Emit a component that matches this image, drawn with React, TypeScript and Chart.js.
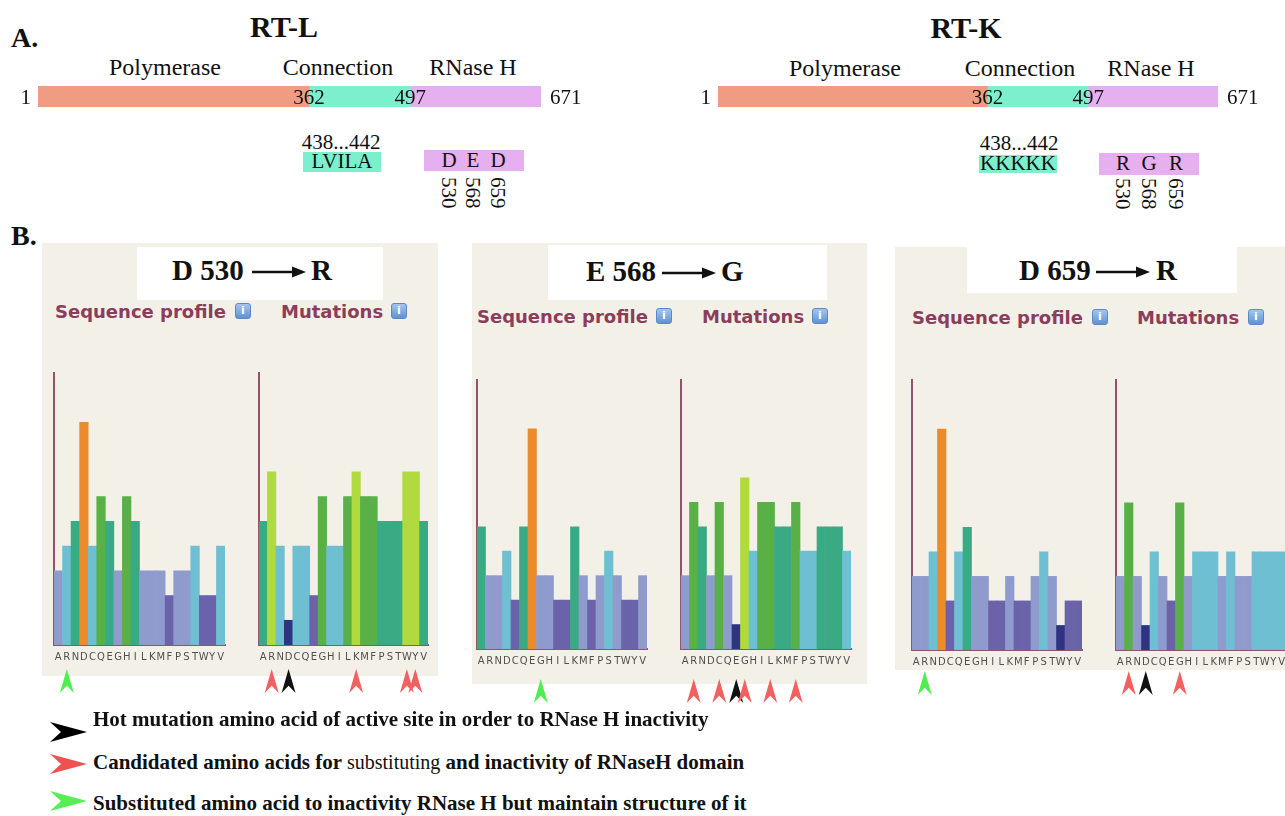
import React, { useEffect, useRef } from 'react';
import { Chart, registerables } from 'chart.js';

Chart.register(...registerables);

// ---------------- DATA ----------------
const aminoAcids = ['A', 'R', 'N', 'D', 'C', 'Q', 'E', 'G', 'H', 'I', 'L', 'K', 'M', 'F', 'P', 'S', 'T', 'W', 'Y', 'V'];

// conservation / mutation levels (1..9)
const d530Profile = [3, 4, 5, 9, 4, 6, 5, 3, 6, 5, 3, 3, 3, 2, 3, 3, 4, 2, 2, 4];
const d530Mutations = [5, 7, 4, 1, 4, 4, 2, 6, 4, 4, 6, 7, 6, 6, 5, 5, 5, 7, 7, 5];
const e568Profile = [5, 3, 3, 4, 2, 5, 9, 3, 3, 2, 2, 5, 3, 2, 3, 4, 3, 2, 2, 3];
const e568Mutations = [3, 6, 5, 3, 6, 3, 1, 7, 4, 6, 6, 5, 5, 6, 4, 4, 5, 5, 5, 4];
const d659Profile = [3, 3, 4, 9, 2, 4, 5, 3, 3, 2, 2, 3, 2, 2, 3, 4, 3, 1, 2, 2];
const d659Mutations = [3, 6, 3, 1, 4, 3, 2, 6, 3, 4, 4, 4, 3, 4, 3, 3, 4, 4, 4, 4];

// arrow marks under the bars
const d530ProfileMarks = [{ aa: 'R', kind: 'green' }];
const d530MutationMarks = [
  { aa: 'R', kind: 'red' }, { aa: 'D', kind: 'black' }, { aa: 'K', kind: 'red' },
  { aa: 'W', kind: 'red' }, { aa: 'Y', kind: 'red' },
];
const e568ProfileMarks = [{ aa: 'G', kind: 'green' }];
const e568MutationMarks = [
  { aa: 'R', kind: 'red' }, { aa: 'C', kind: 'red' }, { aa: 'E', kind: 'black' },
  { aa: 'G', kind: 'red' }, { aa: 'L', kind: 'red' }, { aa: 'F', kind: 'red' },
];
const d659ProfileMarks = [{ aa: 'R', kind: 'green' }];
const d659MutationMarks = [{ aa: 'R', kind: 'red' }, { aa: 'D', kind: 'black' }, { aa: 'G', kind: 'red' }];

// domain map
const domainNames = ['Polymerase', 'Connection', 'RNase H'];
const domainStarts = [1, 362, 497];
const domainEnds = [362, 497, 671];
const domainTicks = [1, 362, 497, 671];
const hingeRange = '438...442';
const hingeRTL = 'LVILA';
const hingeRTK = 'KKKKK';
const activeSitePositions = ['530', '568', '659'];
const activeRTL = ['D', 'E', 'D'];
const activeRTK = ['R', 'G', 'R'];
const mutationTitles = [
  ['D 530', 'R'],
  ['E 568', 'G'],
  ['D 659', 'R'],
];
const legendTexts = [
  'Hot mutation amino acid of active site in order to RNase H inactivity',
  'Candidated amino acids for ',
  'substituting',
  ' and inactivity of RNaseH domain',
  'Substituted amino acid to inactivity RNase H but maintain structure of it',
];

// ---------------- STYLE ----------------
const levelColors: Record<number, string> = {
  1: '#2e3482',
  2: '#6b63aa',
  3: '#8f9bcc',
  4: '#6dbfd1',
  5: '#3aaa84',
  6: '#58b046',
  7: '#b0da3e',
  8: '#e2c53a',
  9: '#ec8b2c',
};
const markColors: Record<string, string> = { red: '#f26060', black: '#111111', green: '#50ee50' };
const domainColors = ['#ef9c82', '#7cf0cc', '#e6aff0'];
const axisColor = '#93536f';
const maroon = '#8b3d5b';
const panelBg = '#f2f0e7';
const SERIF = '"Liberation Serif", "Times New Roman", serif';
const SANS = '"DejaVu Sans", Verdana, sans-serif';

const markerPlugin = {
  id: 'markers',
  afterDraw(chart: any, _args: any, opts: any) {
    const items = (opts && opts.items) || [];
    const xs = chart.scales.x;
    const ctx = chart.ctx;
    items.forEach((m: any) => {
      const idx = aminoAcids.indexOf(m.aa);
      const cx = xs.getPixelForValue(idx);
      const top = opts.top;
      const h = 24;
      const w = 7;
      ctx.save();
      ctx.fillStyle = markColors[m.kind];
      ctx.beginPath();
      ctx.moveTo(cx, top);
      ctx.lineTo(cx + w, top + h);
      ctx.lineTo(cx, top + h * 0.7);
      ctx.lineTo(cx - w, top + h);
      ctx.closePath();
      ctx.fill();
      ctx.restore();
    });
  },
};

const domainLabelPlugin = {
  id: 'domainLabels',
  afterDraw(chart: any) {
    const xs = chart.scales.x;
    const { bottom } = chart.chartArea;
    const ctx = chart.ctx;
    ctx.save();
    ctx.font = '21px ' + SERIF;
    ctx.fillStyle = '#111';
    ctx.textBaseline = 'alphabetic';
    domainTicks.forEach((v, i) => {
      const px = xs.getPixelForValue(v);
      let x = px;
      if (i === 0) {
        ctx.textAlign = 'right';
        x = px - 7;
      } else if (i === domainTicks.length - 1) {
        ctx.textAlign = 'left';
        x = px + 9;
      } else {
        ctx.textAlign = 'center';
      }
      ctx.fillText(String(v), x, bottom - 3);
    });
    ctx.restore();
  },
};

type Plot = { l: number; r: number; t: number; b: number };

function ProfileChart({ values, marks, plot, markTop }: { values: number[]; marks: any[]; plot: Plot; markTop: number }) {
  const ref = useRef<HTMLCanvasElement>(null);
  const PAD = 6;
  const AXH = 20;
  const left = plot.l - PAD;
  const top = plot.t - PAD;
  const w = plot.r - plot.l + 2 * PAD;
  const h = markTop + 26 + PAD - top;
  const padBottom = h - PAD - (plot.b - plot.t) - AXH;
  useEffect(() => {
    const chart = new Chart(ref.current as HTMLCanvasElement, {
      type: 'bar',
      data: {
        labels: aminoAcids,
        datasets: [
          {
            data: values,
            backgroundColor: values.map((v) => levelColors[v]),
            borderWidth: 0,
            barPercentage: 1,
            categoryPercentage: 1,
          },
        ],
      },
      options: {
        animation: false,
        responsive: false,
        devicePixelRatio: 1,
        layout: { padding: { left: PAD, right: PAD, top: PAD, bottom: padBottom } },
        plugins: {
          legend: { display: false },
          tooltip: { enabled: false },
          markers: { items: marks, top: markTop - top },
        } as any,
        scales: {
          x: {
            z: 1,
            grid: { display: false, drawTicks: false },
            border: { color: axisColor, width: 2 },
            ticks: {
              autoSkip: false,
              maxRotation: 0,
              minRotation: 0,
              padding: 6,
              color: '#505050',
              font: { size: 10, family: SANS },
            },
            afterFit: (s: any) => {
              s.height = AXH;
            },
          },
          y: {
            z: 1,
            min: 0,
            max: 11,
            grid: { display: false, drawTicks: false },
            border: { color: axisColor, width: 2 },
            ticks: { display: false },
            afterFit: (s: any) => {
              s.width = 0;
            },
          },
        },
      },
      plugins: [markerPlugin],
    });
    return () => chart.destroy();
  }, []);
  return (
    <canvas
      ref={ref}
      width={w}
      height={h}
      style={{ position: 'absolute', left, top, width: w, height: h }}
    />
  );
}

function DomainChart({ left, top, width, height, area }: { left: number; top: number; width: number; height: number; area: Plot }) {
  const ref = useRef<HTMLCanvasElement>(null);
  useEffect(() => {
    const chart = new Chart(ref.current as HTMLCanvasElement, {
      type: 'bar',
      data: {
        labels: ['RT'],
        datasets: domainNames.map((name, i) => ({
          label: name,
          data: [[domainStarts[i], domainEnds[i]]] as any,
          backgroundColor: domainColors[i],
          borderWidth: 0,
          barPercentage: 1,
          categoryPercentage: 1,
          grouped: false,
        })),
      },
      options: {
        indexAxis: 'y',
        animation: false,
        responsive: false,
        devicePixelRatio: 1,
        layout: {
          padding: {
            left: area.l - left,
            right: left + width - area.r,
            top: area.t - top,
            bottom: top + height - area.b,
          },
        },
        plugins: { legend: { display: false }, tooltip: { enabled: false } },
        scales: {
          x: { display: false, min: domainTicks[0], max: domainTicks[domainTicks.length - 1] },
          y: { display: false },
        },
      },
      plugins: [domainLabelPlugin],
    });
    return () => chart.destroy();
  }, []);
  return (
    <canvas
      ref={ref}
      width={width}
      height={height}
      style={{ position: 'absolute', left, top, width, height }}
    />
  );
}

// text placed by baseline
function T({
  x, y, size, bold, align, family, color, children, style,
}: {
  x: number; y: number; size: number; bold?: boolean; align?: 'left' | 'center'; family?: string; color?: string; children: any; style?: any;
}) {
  return (
    <div
      style={{
        position: 'absolute',
        left: x,
        top: y - size * 0.84,
        fontSize: size,
        lineHeight: 1,
        fontWeight: bold ? 'bold' : 'normal',
        fontFamily: family || SERIF,
        color: color || '#111',
        whiteSpace: 'nowrap',
        transform: align === 'center' ? 'translateX(-50%)' : undefined,
        ...style,
      }}
    >
      {children}
    </div>
  );
}

function Box({ x1, x2, y1, y2, color }: { x1: number; x2: number; y1: number; y2: number; color: string }) {
  return <div style={{ position: 'absolute', left: x1, top: y1, width: x2 - x1, height: y2 - y1, background: color }} />;
}

function Vertical({ cx, top, text }: { cx: number; top: number; text: string }) {
  return (
    <div
      style={{
        position: 'absolute',
        left: cx - 10,
        top,
        width: 20,
        fontSize: 21,
        lineHeight: '20px',
        fontFamily: SERIF,
        writingMode: 'vertical-rl',
        color: '#111',
        whiteSpace: 'nowrap',
      }}
    >
      {text}
    </div>
  );
}

function InfoIcon({ x, y }: { x: number; y: number }) {
  return (
    <div
      style={{
        position: 'absolute',
        left: x,
        top: y,
        width: 16,
        height: 16,
        borderRadius: 3,
        background: 'linear-gradient(#a4c6ee, #5f92d4)',
        border: '1px solid #5a88c8',
        boxSizing: 'border-box',
        color: '#fff',
        fontSize: 11,
        lineHeight: '14px',
        textAlign: 'center',
        fontFamily: SANS,
        fontWeight: 'bold',
      }}
    >
      i
    </div>
  );
}

function TitleArrow({ x, cy }: { x: number; cy: number }) {
  return (
    <svg style={{ position: 'absolute', left: x, top: cy - 7 }} width={54} height={14}>
      <line x1={0} y1={7} x2={44} y2={7} stroke="#111" strokeWidth={2.5} />
      <polygon points="40,1.5 54,7 40,12.5" fill="#111" />
    </svg>
  );
}

function LegendArrow({ x, cy, color }: { x: number; cy: number; color: string }) {
  return (
    <svg style={{ position: 'absolute', left: x, top: cy - 10 }} width={38} height={20}>
      <polygon points="0,0 37,10 0,20 11,10" fill={color} />
    </svg>
  );
}

function Panel({
  bg, titleBox, title, titleX, arrowX, tailX, base, labelsY, seqX, mutX, icon1, icon2, charts,
}: any) {
  return (
    <>
      <Box x1={bg[0]} x2={bg[1]} y1={bg[2]} y2={bg[3]} color={panelBg} />
      <Box x1={titleBox[0]} x2={titleBox[1]} y1={titleBox[2]} y2={titleBox[3]} color="#ffffff" />
      <T x={titleX} y={base} size={29} bold>{title[0]}</T>
      <TitleArrow x={arrowX} cy={base - 8} />
      <T x={tailX} y={base} size={29} bold>{title[1]}</T>
      <T x={seqX} y={labelsY} size={18} bold family={SANS} color={maroon}>Sequence profile</T>
      <InfoIcon x={icon1} y={labelsY - 15} />
      <T x={mutX} y={labelsY} size={18} bold family={SANS} color={maroon}>Mutations</T>
      <InfoIcon x={icon2} y={labelsY - 15} />
      {charts}
    </>
  );
}

export default function App() {
  return (
    <div
      style={{
        position: 'absolute',
        left: 0,
        top: 0,
        width: 1285,
        height: 816,
        overflow: 'hidden',
        background: '#fff',
        fontFamily: SERIF,
      }}
    >
      {/* ---------- Panel A ---------- */}
      <T x={11} y={48} size={28} bold>A.</T>
      <T x={284} y={37} size={30} bold align="center">RT-L</T>
      <T x={966} y={38} size={30} bold align="center">RT-K</T>

      {[165, 338, 473].map((cx, i) => (
        <T key={'l' + i} x={cx} y={75} size={24} align="center">{domainNames[i]}</T>
      ))}
      {[845, 1020, 1151].map((cx, i) => (
        <T key={'k' + i} x={cx} y={76} size={24} align="center">{domainNames[i]}</T>
      ))}

      <DomainChart left={0} top={76} width={600} height={40} area={{ l: 38, r: 541, t: 86, b: 107 }} />
      <DomainChart left={640} top={76} width={645} height={40} area={{ l: 718, r: 1218, t: 86, b: 107 }} />

      {/* RT-L annotations */}
      <T x={341} y={150} size={21} align="center">{hingeRange}</T>
      <Box x1={303} x2={381} y1={152} y2={172} color={domainColors[1]} />
      <T x={342} y={169} size={21} align="center">{hingeRTL}</T>
      <Box x1={424} x2={524} y1={150} y2={171} color={domainColors[2]} />
      {[449, 473, 498].map((cx, i) => (
        <React.Fragment key={'al' + i}>
          <T x={cx} y={168} size={21} align="center">{activeRTL[i]}</T>
          <Vertical cx={cx} top={177} text={activeSitePositions[i]} />
        </React.Fragment>
      ))}

      {/* RT-K annotations */}
      <T x={1019} y={151} size={21} align="center">{hingeRange}</T>
      <Box x1={979} x2={1057} y1={155} y2={173} color={domainColors[1]} />
      <T x={1018} y={171} size={21} align="center">{hingeRTK}</T>
      <Box x1={1099} x2={1199} y1={153} y2={175} color={domainColors[2]} />
      {[1123, 1149, 1176].map((cx, i) => (
        <React.Fragment key={'ak' + i}>
          <T x={cx} y={171} size={21} align="center">{activeRTK[i]}</T>
          <Vertical cx={cx} top={178} text={activeSitePositions[i]} />
        </React.Fragment>
      ))}

      {/* ---------- Panel B ---------- */}
      <T x={11} y={246} size={28} bold>B.</T>

      <Panel
        bg={[42, 438, 243, 676]}
        titleBox={[137, 383, 247, 300]}
        title={mutationTitles[0]}
        titleX={172}
        arrowX={252}
        tailX={311}
        base={280}
        labelsY={318}
        seqX={55}
        mutX={281}
        icon1={235}
        icon2={391}
        charts={
          <>
            <ProfileChart values={d530Profile} marks={d530ProfileMarks} plot={{ l: 54, r: 225, t: 373, b: 645 }} markTop={669} />
            <ProfileChart values={d530Mutations} marks={d530MutationMarks} plot={{ l: 259, r: 428, t: 373, b: 645 }} markTop={669} />
          </>
        }
      />
      <Panel
        bg={[472, 867, 243, 684]}
        titleBox={[548, 827, 245, 300]}
        title={mutationTitles[1]}
        titleX={586}
        arrowX={662}
        tailX={721}
        base={281}
        labelsY={323}
        seqX={477}
        mutX={702}
        icon1={656}
        icon2={812}
        charts={
          <>
            <ProfileChart values={e568Profile} marks={e568ProfileMarks} plot={{ l: 477, r: 647, t: 380, b: 649 }} markTop={679} />
            <ProfileChart values={e568Mutations} marks={e568MutationMarks} plot={{ l: 681, r: 851, t: 380, b: 649 }} markTop={679} />
          </>
        }
      />
      <Panel
        bg={[895, 1285, 247, 670]}
        titleBox={[967, 1237, 247, 293]}
        title={mutationTitles[2]}
        titleX={1019}
        arrowX={1096}
        tailX={1156}
        base={280}
        labelsY={324}
        seqX={912}
        mutX={1137}
        icon1={1092}
        icon2={1248}
        charts={
          <>
            <ProfileChart values={d659Profile} marks={d659ProfileMarks} plot={{ l: 912, r: 1082, t: 380, b: 650 }} markTop={671} />
            <ProfileChart values={d659Mutations} marks={d659MutationMarks} plot={{ l: 1116, r: 1286, t: 380, b: 650 }} markTop={671} />
          </>
        }
      />

      {/* ---------- Legend ---------- */}
      <LegendArrow x={50} cy={732} color="#000000" />
      <T x={93} y={727} size={21} bold>{legendTexts[0]}</T>
      <LegendArrow x={50} cy={764} color="#f05050" />
      <T x={93} y={770} size={21} bold>
        {legendTexts[1]}
        <span style={{ fontWeight: 'normal', fontSize: 20 }}>{legendTexts[2]}</span>
        {legendTexts[3]}
      </T>
      <LegendArrow x={50} cy={801} color="#55ee55" />
      <T x={93} y={811} size={21} bold>{legendTexts[4]}</T>
    </div>
  );
}
